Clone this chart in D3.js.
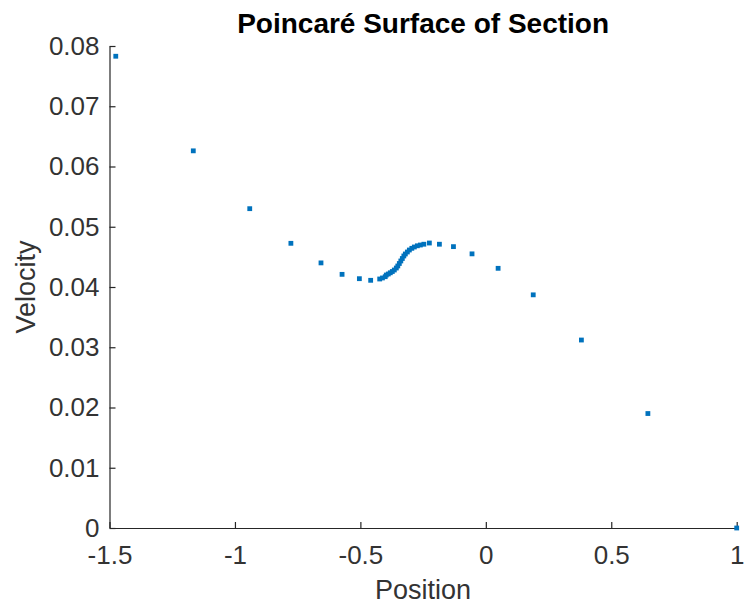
<!DOCTYPE html>
<html>
<head>
<meta charset="utf-8">
<script src="https://cdn.jsdelivr.net/npm/d3@7"></script>
<style>
  body { margin: 0; background: #fff; }
  svg { display: block; font-family: "Liberation Sans", Arial, sans-serif; }
</style>
</head>
<body>
<div id="chart"></div>
<script>
// Poincare section points
const positions = [
  -1.475, -1.166, -0.941, -0.777, -0.657, -0.573, -0.504, -0.459, -0.423, -0.412,
  -0.401, -0.3967, -0.3887, -0.3807, -0.3727, -0.3647, -0.3567, -0.3508, -0.3448, -0.3388,
  -0.3328, -0.3268, -0.3208, -0.3128, -0.3048, -0.2949, -0.2849, -0.2729, -0.2609, -0.2470,
  -0.225, -0.185, -0.129, -0.055, 0.049, 0.189, 0.381, 0.646, 1.0
];
const velocities = [
  0.0783, 0.0626, 0.0530, 0.04725, 0.0440, 0.0421, 0.04138, 0.04111, 0.04133, 0.04150,
  0.04171, 0.04199, 0.04216, 0.04236, 0.04257, 0.04282, 0.04315, 0.04349, 0.04390, 0.04432,
  0.04473, 0.04515, 0.04548, 0.04581, 0.04614, 0.04642, 0.04664, 0.04684, 0.04697, 0.04710,
  0.0473, 0.0471, 0.0467, 0.0455, 0.0431, 0.0387, 0.0312, 0.0190, 0.0
];
const xTicks = [-1.5, -1, -0.5, 0, 0.5, 1];
const xTickLabels = ["-1.5", "-1", "-0.5", "0", "0.5", "1"];
const yTicks = [0, 0.01, 0.02, 0.03, 0.04, 0.05, 0.06, 0.07, 0.08];
const yTickLabels = ["0", "0.01", "0.02", "0.03", "0.04", "0.05", "0.06", "0.07", "0.08"];

const width = 744, height = 604;
const margin = {top: 46, right: 7.3, bottom: 76, left: 109.5};

const points = positions.map((p, i) => ({x: p, y: velocities[i]}));

const x = d3.scaleLinear().domain([-1.5, 1]).range([margin.left, width - margin.right]);
const y = d3.scaleLinear().domain([0, 0.08]).range([height - margin.bottom, margin.top]);

const svg = d3.select("#chart")
  .append("svg")
  .attr("width", width)
  .attr("height", height);

svg.append("rect").attr("width", width).attr("height", height).attr("fill", "#fff");

// axes (MATLAB style: ticks inside, no box)
const xAxis = d3.axisBottom(x)
  .tickValues(xTicks)
  .tickFormat((d, i) => xTickLabels[i])
  .tickSizeInner(-6)
  .tickSizeOuter(0)
  .tickPadding(18);

const yAxis = d3.axisLeft(y)
  .tickValues(yTicks)
  .tickFormat((d, i) => yTickLabels[i])
  .tickSizeInner(-6)
  .tickSizeOuter(0)
  .tickPadding(10);

const gx = svg.append("g")
  .attr("transform", `translate(0,${height - margin.bottom})`)
  .call(xAxis);

const gy = svg.append("g")
  .attr("transform", `translate(${margin.left},0)`)
  .call(yAxis);

[gx, gy].forEach(g => {
  g.attr("font-family", null).attr("font-size", null);
  g.select(".domain").attr("stroke", "#262626").attr("stroke-width", 1.2);
  g.selectAll(".tick line").attr("stroke", "#262626").attr("stroke-width", 1.2);
  g.selectAll(".tick text").attr("fill", "#333").style("font-size", "26px");
});

// markers
svg.append("g")
  .selectAll("rect")
  .data(points)
  .join("rect")
    .attr("x", d => x(d.x) - 2.4)
    .attr("y", d => y(d.y) - 2.4)
    .attr("width", 4.8)
    .attr("height", 4.8)
    .attr("fill", "#0072BD");

// labels
const cx = (margin.left + width - margin.right) / 2;
const cy = (margin.top + height - margin.bottom) / 2;

svg.append("text")
  .attr("x", cx)
  .attr("y", 33)
  .attr("text-anchor", "middle")
  .style("font-size", "28px")
  .style("font-weight", "bold")
  .attr("fill", "#000")
  .text("Poincaré Surface of Section");

svg.append("text")
  .attr("x", cx)
  .attr("y", 599)
  .attr("text-anchor", "middle")
  .style("font-size", "27px")
  .attr("fill", "#333")
  .text("Position");

svg.append("text")
  .attr("transform", `translate(35,${cy}) rotate(-90)`)
  .attr("text-anchor", "middle")
  .style("font-size", "27px")
  .attr("fill", "#333")
  .text("Velocity");
</script>
</body>
</html>
